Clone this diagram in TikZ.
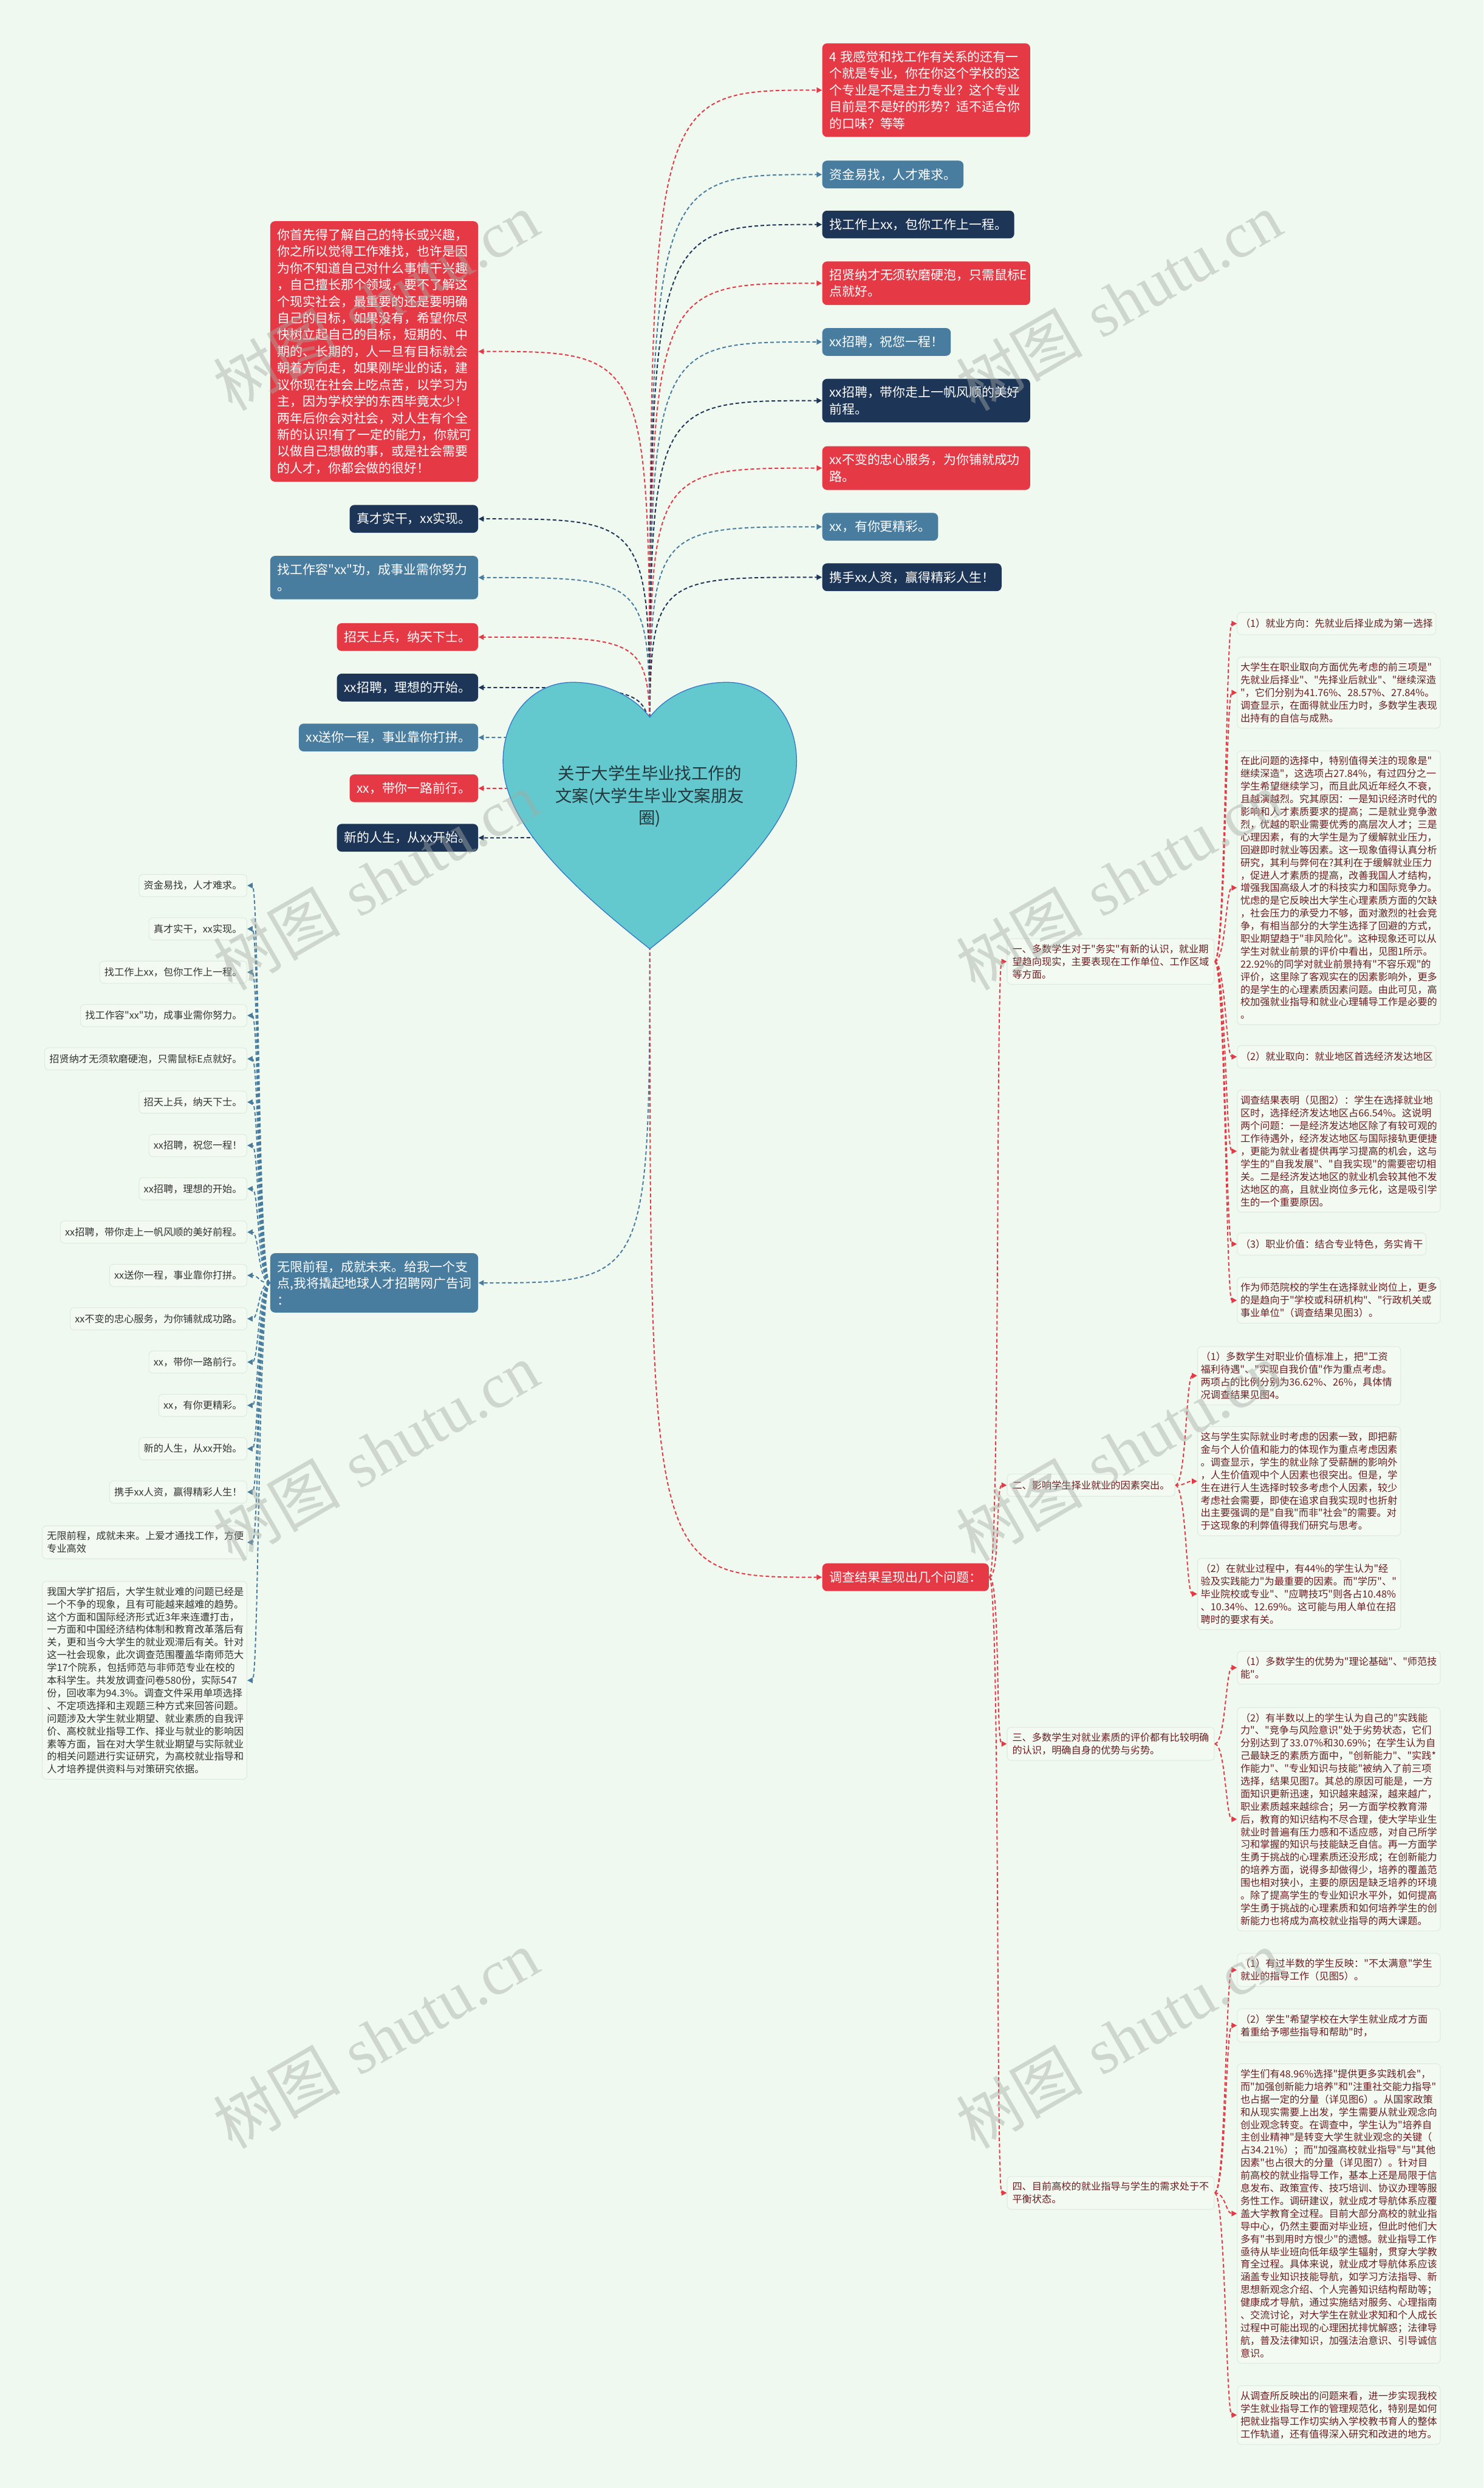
\documentclass[tikz,border=0pt]{standalone}
\usepackage{fontspec}
\newfontfamily\cjk{Noto Sans CJK SC}
\newfontfamily\wmserif{Liberation Serif}
\usetikzlibrary{arrows.meta}
\definecolor{bgc}{RGB}{240,249,239}
\definecolor{cred}{RGB}{230,57,70}
\definecolor{cblue}{RGB}{72,125,160}
\definecolor{cnavy}{RGB}{29,53,87}
\definecolor{heartfill}{RGB}{99,201,206}
\definecolor{heartline}{RGB}{52,120,200}
\definecolor{cmaroon}{RGB}{105,30,35}
\definecolor{cgray}{RGB}{51,51,51}
\definecolor{boxfill}{RGB}{245,251,244}
\definecolor{boxline}{RGB}{222,234,221}
\definecolor{titlec}{RGB}{35,55,60}
\definecolor{wmc}{RGB}{165,172,165}
\pgfdeclarelayer{back}
\pgfdeclarelayer{lines}
\pgfdeclarelayer{front}
\pgfsetlayers{back,lines,main,front}
\begin{document}
\begin{tikzpicture}[x=1pt,y=1pt,
  cnode/.style={rounded corners=3pt, text=white, font=\cjk\fontsize{8}{10.5}\selectfont, inner xsep=4.5pt, inner ysep=4.8pt, minimum height=17.5pt},
  rednode/.style={cnode, fill=cred},
  bluenode/.style={cnode, fill=cblue},
  navynode/.style={cnode, fill=cnavy},
  wrap/.style={text width=122pt, align=left},
  leafbox/.style={draw=boxline, fill=boxfill, fill opacity=0.7, text opacity=1, line width=0.4pt, rounded corners=2.5pt, font=\cjk\fontsize{6.2}{8}\selectfont, inner xsep=3pt, inner ysep=3.5pt, minimum height=14pt},
  rleaf/.style={leafbox, text=cmaroon, anchor=west, inner xsep=2pt},
  rwrap/.style={rleaf, text width=124pt, align=left},
  lleaf/.style={leafbox, text=cgray, anchor=east},
  lwrap/.style={lleaf, text width=123pt, align=left},
  midnode/.style={leafbox, text=cmaroon, anchor=west, inner xsep=3.25pt},
  conn/.style={line width=0.75pt, dash pattern=on 2.3pt off 1.5pt, -{Triangle[length=3.4pt,width=3.4pt]}, draw=#1, color=#1},
  wm/.style={text=wmc, opacity=0.45, font=\fontsize{40}{40}\selectfont, rotate=30},
  titlestyle/.style={text=titlec, align=center, font=\cjk\fontsize{10.5}{14}\selectfont}
]
\begin{pgfonlayer}{back}
\fill[bgc] (0,0) rectangle (935,-1568);
\end{pgfonlayer}
\useasboundingbox (0,0) rectangle (935,-1568);

% heart
\filldraw[fill=heartfill, draw=heartline, line width=0.5pt]
 (409.5,-452) .. controls (421,-437) and (440,-430) .. (458,-430)
 .. controls (484,-430) and (502,-452) .. (502,-480)
 .. controls (502,-520) and (455,-562) .. (409.5,-598)
 .. controls (364,-562) and (317,-520) .. (317,-480)
 .. controls (317,-452) and (335,-430) .. (361,-430)
 .. controls (379,-430) and (398,-437) .. (409.5,-452) -- cycle;
\node[titlestyle] (title) at (409.5,-502) {关于大学生毕业找工作的\\文案(大学生毕业文案朋友\\圈)};
\coordinate (hs) at (409.5,-475);
\coordinate (hb) at (409.5,-585);

% top right
\node[rednode, wrap, anchor=west] (tr1) at (518,-56.8) {4 我感觉和找工作有关系的还有一\\个就是专业，你在你这个学校的这\\个专业是不是主力专业？这个专业\\目前是不是好的形势？适不适合你\\的口味？等等};
\node[bluenode, anchor=west] (tr2) at (518,-110) {资金易找，人才难求。};
\node[navynode, anchor=west] (tr3) at (518,-141.5) {找工作上xx，包你工作上一程。};
\node[rednode, wrap, anchor=west] (tr4) at (518,-178.5) {招贤纳才无须软磨硬泡，只需鼠标E\\点就好。};
\node[bluenode, anchor=west] (tr5) at (518,-215.5) {xx招聘，祝您一程！};
\node[navynode, wrap, anchor=west] (tr6) at (518,-252.5) {xx招聘，带你走上一帆风顺的美好\\前程。};
\node[rednode, wrap, anchor=west] (tr7) at (518,-295) {xx不变的忠心服务，为你铺就成功\\路。};
\node[bluenode, anchor=west] (tr8) at (518,-332) {xx，有你更精彩。};
\node[navynode, anchor=west] (tr9) at (518,-363.8) {携手xx人资，赢得精彩人生！};

% top left
\node[rednode, wrap, anchor=east] (tl1) at (301.5,-221.5) {你首先得了解自己的特长或兴趣，\\你之所以觉得工作难找，也许是因\\为你不知道自己对什么事情干兴趣\\，自己擅长那个领域，要不了解这\\个现实社会，最重要的还是要明确\\自己的目标，如果没有，希望你尽\\快树立起自己的目标，短期的、中\\期的、长期的，人一旦有目标就会\\朝着方向走，如果刚毕业的话，建\\议你现在社会上吃点苦，以学习为\\主，因为学校学的东西毕竟太少！\\两年后你会对社会，对人生有个全\\新的认识!有了一定的能力，你就可\\以做自己想做的事，或是社会需要\\的人才，你都会做的很好！};
\node[navynode, anchor=east] (tl2) at (301.5,-327) {真才实干，xx实现。};
\node[bluenode, wrap, anchor=east] (tl3) at (301.5,-364) {找工作容"xx"功，成事业需你努力\\。};
\node[rednode, anchor=east] (tl4) at (301.5,-401.5) {招天上兵，纳天下士。};
\node[navynode, anchor=east] (tl5) at (301.5,-433.3) {xx招聘，理想的开始。};
\node[bluenode, anchor=east] (tl6) at (301.5,-464.8) {xx送你一程，事业靠你打拼。};
\node[rednode, anchor=east] (tl7) at (301.5,-496.8) {xx，带你一路前行。};
\node[navynode, anchor=east] (tl8) at (301.5,-528) {新的人生，从xx开始。};

% hubs
\node[bluenode, wrap, anchor=east] (hubL) at (301.5,-808.5) {无限前程，成就未来。给我一个支\\点,我将撬起地球人才招聘网广告词\\：};
\node[rednode, anchor=west] (hubR) at (518,-994) {调查结果呈现出几个问题：};

% left leaves
\node[lleaf] (ll1) at (155.8,-558.1) {资金易找，人才难求。};
\node[lleaf] (ll2) at (155.8,-585.4) {真才实干，xx实现。};
\node[lleaf] (ll3) at (155.8,-612.7) {找工作上xx，包你工作上一程。};
\node[lleaf] (ll4) at (155.8,-640) {找工作容"xx"功，成事业需你努力。};
\node[lleaf] (ll5) at (155.8,-667.3) {招贤纳才无须软磨硬泡，只需鼠标E点就好。};
\node[lleaf] (ll6) at (155.8,-694.6) {招天上兵，纳天下士。};
\node[lleaf] (ll7) at (155.8,-721.9) {xx招聘，祝您一程！};
\node[lleaf] (ll8) at (155.8,-749.2) {xx招聘，理想的开始。};
\node[lleaf] (ll9) at (155.8,-776.5) {xx招聘，带你走上一帆风顺的美好前程。};
\node[lleaf] (ll10) at (155.8,-803.8) {xx送你一程，事业靠你打拼。};
\node[lleaf] (ll11) at (155.8,-831.1) {xx不变的忠心服务，为你铺就成功路。};
\node[lleaf] (ll12) at (155.8,-858.4) {xx，带你一路前行。};
\node[lleaf] (ll13) at (155.8,-885.7) {xx，有你更精彩。};
\node[lleaf] (ll14) at (155.8,-913) {新的人生，从xx开始。};
\node[lleaf] (ll15) at (155.8,-940.3) {携手xx人资，赢得精彩人生！};
\node[lwrap] (ll16) at (155.8,-972) {无限前程，成就未来。上爱才通找工作，方便\\专业高效};
\node[lwrap] (ll17) at (155.8,-1059) {我国大学扩招后，大学生就业难的问题已经是\\一个不争的现象，且有可能越来越难的趋势。\\这个方面和国际经济形式近3年来连遭打击，\\一方面和中国经济结构体制和教育改革落后有\\关，更和当今大学生的就业观滞后有关。针对\\这一社会现象，此次调查范围覆盖华南师范大\\学17个院系，包括师范与非师范专业在校的\\本科学生。共发放调查问卷580份，实际547\\份，回收率为94.3\%。调查文件采用单项选择\\、不定项选择和主观题三种方式来回答问题。\\问题涉及大学生就业期望、就业素质的自我评\\价、高校就业指导工作、择业与就业的影响因\\素等方面，旨在对大学生就业期望与实际就业\\的相关问题进行实证研究，为高校就业指导和\\人才培养提供资料与对策研究依据。};

% level 2
\node[midnode, text width=124pt, align=left] (l2a) at (634.5,-606) {一、多数学生对于"务实"有新的认识，就业期\\望趋向现实，主要表现在工作单位、工作区域\\等方面。};
\node[midnode] (l2b) at (634.5,-936) {二、影响学生择业就业的因素突出。};
\node[midnode, text width=124pt, align=left] (l2c) at (634.5,-1099) {三、多数学生对就业素质的评价都有比较明确\\的认识，明确自身的优势与劣势。};
\node[midnode, text width=124pt, align=left] (l2d) at (634.5,-1382) {四、目前高校的就业指导与学生的需求处于不\\平衡状态。};

% level 3, branch 1
\node[rleaf] (ra) at (779.5,-393) {（1）就业方向：先就业后择业成为第一选择};
\node[rwrap] (rb) at (779.5,-436.5) {大学生在职业取向方面优先考虑的前三项是"\\先就业后择业"、"先择业后就业"、"继续深造\\"，它们分别为41.76\%、28.57\%、27.84\%。\\调查显示，在面得就业压力时，多数学生表现\\出持有的自信与成熟。};
\node[rwrap] (rc) at (779.5,-559.5) {在此问题的选择中，特别值得关注的现象是"\\继续深造"，这选项占27.84\%，有过四分之一\\学生希望继续学习，而且此风近年经久不衰，\\且越演越烈。究其原因：一是知识经济时代的\\影响和人才素质要求的提高；二是就业竞争激\\烈，优越的职业需要优秀的高层次人才；三是\\心理因素，有的大学生是为了缓解就业压力，\\回避即时就业等因素。这一现象值得认真分析\\研究，其利与弊何在?其利在于缓解就业压力\\，促进人才素质的提高，改善我国人才结构，\\增强我国高级人才的科技实力和国际竞争力。\\忧虑的是它反映出大学生心理素质方面的欠缺\\，社会压力的承受力不够，面对激烈的社会竞\\争，有相当部分的大学生选择了回避的方式，\\职业期望趋于"非风险化"。这种现象还可以从\\学生对就业前景的评价中看出，见图1所示。\\22.92\%的同学对就业前景持有"不容乐观"的\\评价，这里除了客观实在的因素影响外，更多\\的是学生的心理素质因素问题。由此可见，高\\校加强就业指导和就业心理辅导工作是必要的\\。};
\node[rleaf] (rd) at (779.5,-666) {（2）就业取向：就业地区首选经济发达地区};
\node[rwrap] (re) at (779.5,-725.5) {调查结果表明（见图2）：学生在选择就业地\\区时，选择经济发达地区占66.54\%。这说明\\两个问题：一是经济发达地区除了有较可观的\\工作待遇外，经济发达地区与国际接轨更便捷\\，更能为就业者提供再学习提高的机会，这与\\学生的"自我发展"、"自我实现"的需要密切相\\关。二是经济发达地区的就业机会较其他不发\\达地区的高，且就业岗位多元化，这是吸引学\\生的一个重要原因。};
\node[rleaf] (rf) at (779.5,-784) {（3）职业价值：结合专业特色，务实肯干};
\node[rwrap] (rg) at (779.5,-819.5) {作为师范院校的学生在选择就业岗位上，更多\\的是趋向于"学校或科研机构"、"行政机关或\\事业单位"（调查结果见图3）。};

% branch 2
\node[rwrap] (rh) at (754.5,-867) {（1）多数学生对职业价值标准上，把"工资\\福利待遇"、"实现自我价值"作为重点考虑。\\两项占的比例分别为36.62\%、26\%，具体情\\况调查结果见图4。};
\node[rwrap] (ri) at (754.5,-933.5) {这与学生实际就业时考虑的因素一致，即把薪\\金与个人价值和能力的体现作为重点考虑因素\\。调查显示，学生的就业除了受薪酬的影响外\\，人生价值观中个人因素也很突出。但是，学\\生在进行人生选择时较多考虑个人因素，较少\\考虑社会需要，即使在追求自我实现时也折射\\出主要强调的是"自我"而非"社会"的需要。对\\于这现象的利弊值得我们研究与思考。};
\node[rwrap] (rj) at (754.5,-1004.5) {（2）在就业过程中，有44\%的学生认为"经\\验及实践能力"为最重要的因素。而"学历"、"\\毕业院校或专业"、"应聘技巧"则各占10.48\%\\、10.34\%、12.69\%。这可能与用人单位在招\\聘时的要求有关。};

% branch 3
\node[rwrap] (rk) at (779.5,-1051) {（1）多数学生的优势为"理论基础"、"师范技\\能"。};
\node[rwrap] (rl) at (779.5,-1146.5) {（2）有半数以上的学生认为自己的"实践能\\力"、"竞争与风险意识"处于劣势状态，它们\\分别达到了33.07\%和30.69\%；在学生认为自\\己最缺乏的素质方面中，"创新能力"、"实践*\\作能力"、"专业知识与技能"被纳入了前三项\\选择，结果见图7。其总的原因可能是，一方\\面知识更新迅速，知识越来越深，越来越广，\\职业素质越来越综合；另一方面学校教育滞\\后，教育的知识结构不尽合理，使大学毕业生\\就业时普遍有压力感和不适应感，对自己所学\\习和掌握的知识与技能缺乏自信。再一方面学\\生勇于挑战的心理素质还没形成；在创新能力\\的培养方面，说得多却做得少，培养的覆盖范\\围也相对狭小，主要的原因是缺乏培养的环境\\。除了提高学生的专业知识水平外，如何提高\\学生勇于挑战的心理素质和如何培养学生的创\\新能力也将成为高校就业指导的两大课题。};

% branch 4
\node[rwrap] (rm) at (779.5,-1241.5) {（1）有过半数的学生反映："不太满意"学生\\就业的指导工作（见图5）。};
\node[rwrap] (rn) at (779.5,-1276.5) {（2）学生"希望学校在大学生就业成才方面\\着重给予哪些指导和帮助"时，};
\node[rwrap] (ro) at (779.5,-1395) {学生们有48.96\%选择"提供更多实践机会"，\\而"加强创新能力培养"和"注重社交能力指导"\\也占据一定的分量（详见图6）。从国家政策\\和从现实需要上出发，学生需要从就业观念向\\创业观念转变。在调查中，学生认为"培养自\\主创业精神"是转变大学生就业观念的关键（\\占34.21\%）；而"加强高校就业指导"与"其他\\因素"也占很大的分量（详见图7）。针对目\\前高校的就业指导工作，基本上还是局限于信\\息发布、政策宣传、技巧培训、协议办理等服\\务性工作。调研建议，就业成才导航体系应覆\\盖大学教育全过程。目前大部分高校的就业指\\导中心，仍然主要面对毕业班，但此时他们大\\多有"书到用时方恨少"的遗憾。就业指导工作\\亟待从毕业班向低年级学生辐射，贯穿大学教\\育全过程。具体来说，就业成才导航体系应该\\涵盖专业知识技能导航，如学习方法指导、新\\思想新观念介绍、个人完善知识结构帮助等；\\健康成才导航，通过实施结对服务、心理指南\\、交流讨论，对大学生在就业求知和个人成长\\过程中可能出现的心理困扰排忧解惑；法律导\\航，普及法律知识，加强法治意识、引导诚信\\意识。};
\node[rwrap] (rp) at (779.5,-1522) {从调查所反映出的问题来看，进一步实现我校\\学生就业指导工作的管理规范化，特别是如何\\把就业指导工作切实纳入学校教书育人的整体\\工作轨道，还有值得深入研究和改进的地方。};

% connectors
\begin{pgfonlayer}{lines}
\foreach \n/\c in {tr1/cred,tr2/cblue,tr3/cnavy,tr4/cred,tr5/cblue,tr6/cnavy,tr7/cred,tr8/cblue,tr9/cnavy}
  \draw[conn=\c] (hs) .. controls (hs |- \n.west) .. (\n.west);
\foreach \n/\c in {tl1/cred,tl2/cnavy,tl3/cblue,tl4/cred,tl5/cnavy,tl6/cblue,tl7/cred,tl8/cnavy}
  \draw[conn=\c] (hs) .. controls (hs |- \n.east) .. (\n.east);
\draw[conn=cblue] (hb) .. controls (hb |- hubL.east) .. (hubL.east);
\draw[conn=cred] (hb) .. controls (hb |- hubR.west) .. (hubR.west);
\foreach \n in {1,...,17}
  \draw[conn=cblue] (hubL.west) .. controls +(-7.5,0) and +(7.5,0) .. (ll\n.east);
\foreach \n in {l2a,l2b,l2c,l2d}
  \draw[conn=cred] (hubR.east) .. controls +(7,0) and +(-7,0) .. (\n.west);
\foreach \n in {ra,rb,rc,rd,re,rf,rg}
  \draw[conn=cred] (l2a.east) .. controls +(7,0) and +(-7,0) .. (\n.west);
\foreach \n in {rh,ri,rj}
  \draw[conn=cred] (l2b.east) .. controls +(7,0) and +(-7,0) .. (\n.west);
\foreach \n in {rk,rl}
  \draw[conn=cred] (l2c.east) .. controls +(7,0) and +(-7,0) .. (\n.west);
\foreach \n in {rm,rn,ro,rp}
  \draw[conn=cred] (l2d.east) .. controls +(7,0) and +(-7,0) .. (\n.west);
\end{pgfonlayer}

% watermarks
\begin{pgfonlayer}{front}
\node[wm] (wm1) at (237,-190) {{\cjk 树图} {\wmserif shutu.cn}};
\node[wm] (wm2) at (705,-190) {{\cjk 树图} {\wmserif shutu.cn}};
\node[wm] (wm3) at (237,-555) {{\cjk 树图} {\wmserif shutu.cn}};
\node[wm] (wm4) at (705,-555) {{\cjk 树图} {\wmserif shutu.cn}};
\node[wm] (wm5) at (237,-915) {{\cjk 树图} {\wmserif shutu.cn}};
\node[wm] (wm6) at (705,-915) {{\cjk 树图} {\wmserif shutu.cn}};
\node[wm] (wm7) at (237,-1285) {{\cjk 树图} {\wmserif shutu.cn}};
\node[wm] (wm8) at (705,-1285) {{\cjk 树图} {\wmserif shutu.cn}};
\end{pgfonlayer}
\end{tikzpicture}
\end{document}
